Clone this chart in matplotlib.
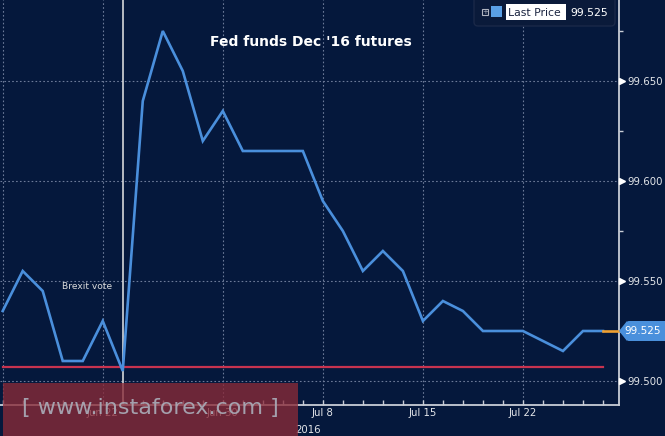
import matplotlib
matplotlib.use('Agg')
import matplotlib.pyplot as plt
from matplotlib.patches import FancyBboxPatch, Rectangle, Polygon
from matplotlib.transforms import blended_transform_factory
import numpy as np

W, H, DPI = 665, 436, 100

# ── data ────────────────────────────────────────────────────────────────
dates = ['Jun 15', 'Jun 16', 'Jun 17', 'Jun 20', 'Jun 21', 'Jun 22', 'Jun 23',
         'Jun 24', 'Jun 27', 'Jun 28', 'Jun 29', 'Jun 30', 'Jul 1', 'Jul 5',
         'Jul 6', 'Jul 7', 'Jul 8', 'Jul 11', 'Jul 12', 'Jul 13', 'Jul 14',
         'Jul 15', 'Jul 18', 'Jul 19', 'Jul 20', 'Jul 21', 'Jul 22', 'Jul 25',
         'Jul 26', 'Jul 27', 'Jul 28']
prices = [99.535, 99.555, 99.545, 99.510, 99.510, 99.530, 99.505,
          99.640, 99.675, 99.655, 99.620, 99.635, 99.615, 99.615,
          99.615, 99.615, 99.590, 99.575, 99.555, 99.565, 99.555,
          99.530, 99.540, 99.535, 99.525, 99.525, 99.525, 99.520,
          99.515, 99.525, 99.525]
grid_dates = ['Jun 15', 'Jun 22', 'Jun 30', 'Jul 8', 'Jul 15', 'Jul 22']
grid_labels = ['', 'Jun 22', 'Jun 30', 'Jul 8', 'Jul 15', 'Jul 22']
y_ticks = [99.500, 99.550, 99.600, 99.650]
y_minor = [99.525, 99.575, 99.625, 99.675]
brexit_date = 'Jun 23'
floor_level = 99.507
last_price = prices[-1]

BG = '#05183c'
LINE = '#4a8fdc'
GRID = '#6c7a98'
AXC = '#c9cdd6'

x = np.arange(len(dates))
idx = {d: i for i, d in enumerate(dates)}

fig = plt.figure(figsize=(W/DPI, H/DPI), dpi=DPI, facecolor=BG)
ax = fig.add_axes([0, 31/H, 619/W, 405/H])
ax.set_facecolor(BG)
ax.set_xlim(-0.135, 30.8)
ax.set_ylim(99.488, 99.6905)

# grid
for d in grid_dates:
    ax.axvline(idx[d], color=GRID, lw=0.8, ls=(0, (1.5, 2)), zorder=1)
for v in y_ticks:
    ax.axhline(v, color=GRID, lw=0.8, ls=(0, (1.5, 2)), zorder=1)

# series
ax.axvline(idx[brexit_date], color='#e8e8e8', lw=1.1, zorder=2)
ax.plot([x[0], x[-1]], [floor_level, floor_level], color='#c8334f', lw=1.6, zorder=3)
ax.plot(x, prices, color=LINE, lw=1.9, zorder=4, solid_joinstyle='miter')
ax.plot([x[-1], ax.get_xlim()[1]], [last_price, last_price],
        color='#f0a030', lw=1.9, zorder=4, clip_on=False)

ax.text(idx[brexit_date] - 1.8, 99.5475, 'Brexit vote', fontsize=6.6,
        color='#dcdcdc', ha='center', va='center')
ax.text(15.4, 99.6695, "Fed funds Dec '16 futures", fontsize=10,
        fontweight='bold', color='white', ha='center', va='center')

# axes styling
for s in ['left', 'top']:
    ax.spines[s].set_visible(False)
for s in ['right', 'bottom']:
    ax.spines[s].set_color(AXC)
    ax.spines[s].set_linewidth(1.3)

ax.yaxis.tick_right()
ax.set_yticks(y_ticks)
ax.set_yticklabels([f'{v:.3f}' for v in y_ticks])
ax.set_yticks(y_minor, minor=True)
ax.tick_params(axis='y', which='major', length=0, pad=6, labelsize=7.3,
               labelcolor='#e4e6ea')
ax.tick_params(axis='y', which='minor', length=3, width=1, color=AXC,
               direction='out')

ax.set_xticks([idx[d] for d in grid_dates])
ax.set_xticklabels(grid_labels)
ax.set_xticks(x, minor=True)
ax.tick_params(axis='x', which='both', direction='in', length=3.5, width=1,
               color=AXC, labelsize=7.3, labelcolor='#e4e6ea', pad=2)

# triangle markers on right axis
tr = blended_transform_factory(ax.transAxes, ax.transData)
ax.plot([1.005] * len(y_ticks), y_ticks, marker='>', ms=4, ls='none',
        color='white', transform=tr, clip_on=False, zorder=6)

# ── overlay in pixel coordinates ───────────────────────────────────────
ov = fig.add_axes([0, 0, 1, 1], facecolor='none')
ov.set_xlim(0, W)
ov.set_ylim(H, 0)
ov.axis('off')

ov.text(308, 430, '2016', fontsize=7.3, color='#e4e6ea', ha='center', va='center')

# last-price tag
ly = 331
ov.add_patch(FancyBboxPatch((626, ly - 10), 42, 20,
             boxstyle='round,pad=0,rounding_size=3', fc='#4a90dc', ec='none', zorder=7))
ov.add_patch(Polygon([[619, ly], [627, ly - 10], [627, ly + 10]], closed=True,
             fc='#4a90dc', ec='none', zorder=7))
ov.text(643, ly, f'{last_price:.3f}', fontsize=7.5, color='white',
        ha='center', va='center', zorder=8)

# legend box
ov.add_patch(FancyBboxPatch((474, -6), 141, 32,
             boxstyle='round,pad=0,rounding_size=4', fc='#0a1a3a',
             ec='#1a2848', lw=1, zorder=7))
ov.add_patch(Rectangle((482, 9), 6, 6, fc='none', ec='#b0b4c0', lw=0.8, zorder=8))
ov.text(485, 12, '+', fontsize=5, color='#b0b4c0', ha='center', va='center', zorder=8)
ov.add_patch(Rectangle((491, 6), 11, 11, fc='#5aa0e6', ec='none', zorder=8))
ov.add_patch(Rectangle((506, 4), 60, 16, fc='white', ec='none', zorder=8))
ov.text(508, 12.5, 'Last Price', fontsize=7.8, color='#1a2440',
        ha='left', va='center', zorder=9)
ov.text(570, 12.5, f'{last_price:.3f}', fontsize=7.8, color='white',
        ha='left', va='center', zorder=9)

# watermark
ov.add_patch(Rectangle((3, 383), 295, 53, fc='#8a2a38', ec='none', alpha=0.78, zorder=10))
ov.text(150, 408, '[ www.instaforex.com ]', fontsize=16, color='#a8a8b4',
        ha='center', va='center', zorder=11, alpha=0.95)

fig.savefig('out.png', dpi=DPI, facecolor=BG)
